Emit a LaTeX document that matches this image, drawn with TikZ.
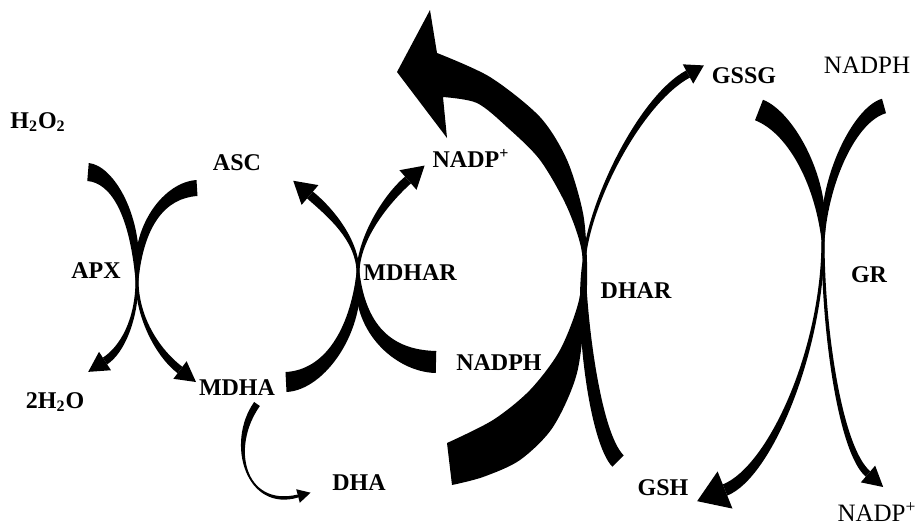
\documentclass[tikz,border=0pt]{standalone}
\usepackage{fontspec}
\setmainfont{Liberation Serif}
\usetikzlibrary{calc}

%% tapered piece of an arrow: start, control, control, end,
%% width at start, width at second control, width at end
\newcommand{\taperSeg}[7]{%
  \fill[arrowDecorate] ($(#1)!#5*0.25pt!90:(#2)$)
    .. controls ($(#2)!#5*0.25pt!-90:(#1)$) and ($(#3)!#6*0.25pt!90:(#4)$)
    .. ($(#4)!#7*0.25pt!-90:(#3)$)
    -- ($(#4)!#7*0.25pt!90:(#3)$)
    .. controls ($(#3)!#6*0.25pt!-90:(#4)$) and ($(#2)!#5*0.25pt!90:(#1)$)
    .. ($(#1)!#5*0.25pt!-90:(#2)$) -- cycle;}
%% head: last control, end of shaft, length, half width
\newcommand{\arrowHead}[4]{%
  \fill[arrowDecorate] ($(#2)!-#3*0.5pt!(#1)$) -- ($(#2)!#4*0.5pt!90:(#1)$)
    -- ($(#2)!#4*0.5pt!-90:(#1)$) -- cycle;}

\begin{document}
\begin{tikzpicture}
[x=0.5pt,y=-0.5pt,
  arrowDecorate/.style={fill=black,draw=none},%
  nodeDecorate/.style={font=\bfseries\fontsize{12}{14}\selectfont,inner sep=0pt,anchor=base},%
  lightDecorate/.style={font=\fontsize{12.5}{14}\selectfont,inner sep=0pt,anchor=base}]
\useasboundingbox (0,0) rectangle (915,527);
%% crossing points
\coordinate (apx) at (137,280);
\coordinate (mdhar) at (358,273);
\coordinate (dhar) at (584,262);
\coordinate (gr) at (823,240);
%% labels
\foreach \nodename/\x/\y/\txt in {h2o2/38/128/{H\textsubscript{2}O\textsubscript{2}},
  asc/237/170/ASC, apxName/96/278/APX, water/55/408/{2H\textsubscript{2}O},
  mdha/237/395/MDHA, mdharName/410/280/MDHAR, nadpA/471/167/{NADP\textsuperscript{+}},
  nadphA/499/370/NADPH, dha/359/490/DHA, dharName/636/298/DHAR,
  gssg/744/83/GSSG, grName/869/282/GR, gsh/663/495/GSH}
{
  \node (\nodename) at (\x,\y) [nodeDecorate] {\txt};
}
\node (nadphB) at (867,73) [lightDecorate] {NADPH};
\node (nadpB) at (877,521) [lightDecorate] {NADP\textsuperscript{+}};
%% APX
\taperSeg{88,172}{112,174}{137,215}{apx}{18}{15}{3}
\taperSeg{apx}{137,320}{122,350}{105,361}{3}{8}{8}
\arrowHead{122,350}{105,361}{20}{11}
\taperSeg{197,188}{165,190}{137,225}{apx}{16}{14}{3}
\taperSeg{apx}{137,320}{160,355}{180,370}{3}{8}{8}
\arrowHead{160,355}{180,370}{20}{11}
%% MDHAR
\taperSeg{286,382}{325,380}{358,330}{mdhar}{20}{17}{3}
\taperSeg{mdhar}{358,240}{330,212}{310,195}{3}{10}{9}
\arrowHead{330,212}{310,195}{22}{13}
\taperSeg{436,362}{395,361}{358,330}{mdhar}{22}{18}{3}
\taperSeg{mdhar}{358,240}{385,200}{408,180}{3}{10}{9}
\arrowHead{385,200}{408,180}{22}{13}
%% MDHA to DHA
\taperSeg{257,404}{228,445}{245,510}{298,496}{7}{6}{3}
\arrowHead{245,510}{298,496}{13}{7}
%% DHAR
\fill[arrowDecorate] plot[smooth] coordinates {(452,485) (483,477) (520,460) (553,427)
  (577,373) (586,300) (587,262) (583,213) (567,160) (540,117) (490,77) (437,53)}
  -- (430,10) -- (397,72) -- (447,138)
  -- plot[smooth] coordinates {(443,97) (477,103) (507,127) (540,160) (567,207)
  (582,253) (579,300) (560,350) (530,390) (493,420) (447,443)} -- cycle;
\taperSeg{618,461}{595,438}{580,320}{dhar}{16}{13}{3}
\taperSeg{dhar}{588,204}{640,100}{688,74}{3}{8}{8}
\arrowHead{640,100}{688,74}{18}{11}
%% GR
\taperSeg{759,110}{790,122}{823,180}{gr}{22}{18}{3}
\taperSeg{gr}{823,350}{770,472}{725,490}{3}{12}{12}
\arrowHead{770,472}{725,490}{30}{20}
\taperSeg{884,106}{855,114}{823,180}{gr}{15}{12}{3}
\taperSeg{gr}{823,330}{840,450}{868,474}{3}{7}{7}
\arrowHead{840,450}{868,474}{20}{11}
\end{tikzpicture}
\end{document}
